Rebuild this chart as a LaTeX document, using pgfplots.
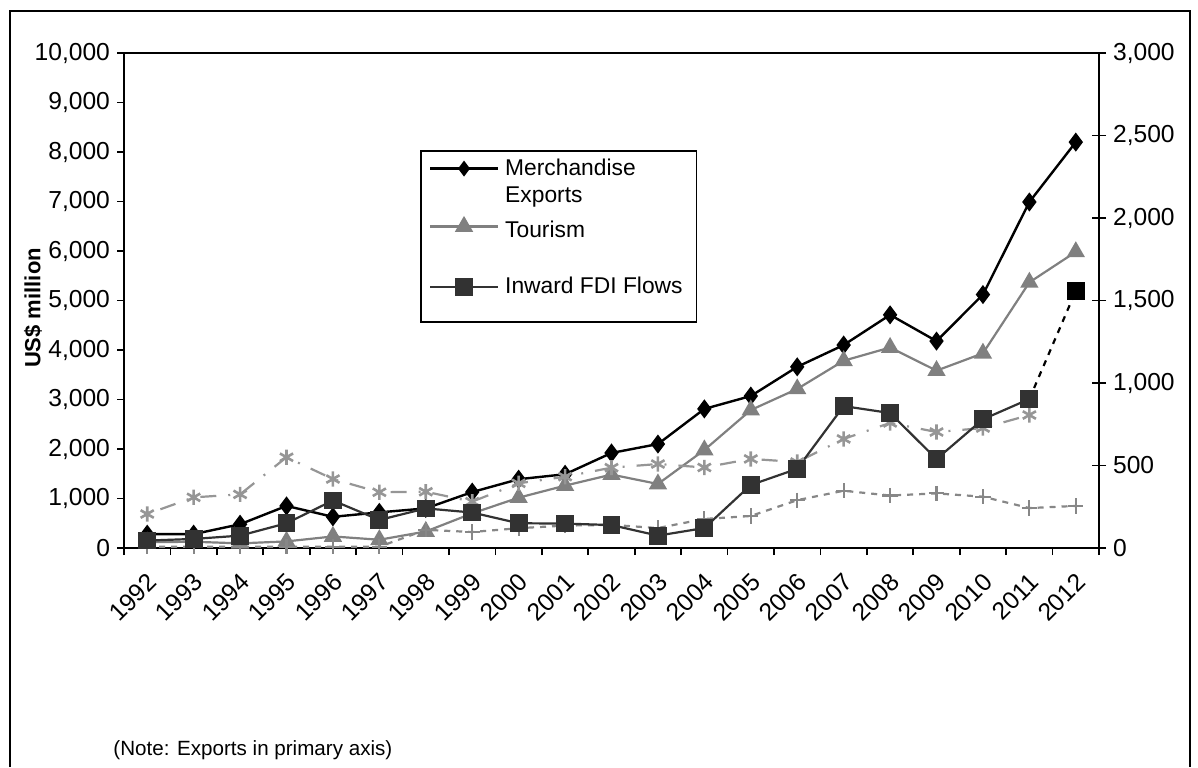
\documentclass[border=0pt]{standalone}
\usepackage{pgfplots}
\pgfplotsset{compat=1.18}
\usepackage{fontspec}
\setmainfont{Liberation Sans}
\definecolor{tour}{RGB}{128,128,128}
\definecolor{fdi}{RGB}{50,50,50}
\definecolor{remit}{RGB}{150,150,150}
\definecolor{oth}{RGB}{135,135,135}
\pgfplotsset{
  base/.style={
    scale only axis, width=487.5pt, height=247.5pt,
    at={(62pt,109.5pt)}, anchor=south west,
    xmin=-0.5, xmax=20.5,
    /pgf/number format/assume math mode=true,
    /pgf/number format/1000 sep={,},
    scaled y ticks=false,
    tick label style={font=\fontsize{12.3}{14}\selectfont},
    axis line style={black, line width=0.8pt},
    every tick/.style={black, line width=0.8pt},
  }
}
\begin{document}
\begin{tikzpicture}
\useasboundingbox (0,0) rectangle (599pt,383.5pt);
\draw[line width=0.8pt] (5pt,0) -- (5pt,378pt) -- (595pt,378pt) -- (595pt,0);
% primary axis
\begin{axis}[base,
  ymin=0, ymax=10000, ytick={0,1000,...,10000},
  ytick pos=left, xtick pos=bottom, tick align=outside,
  major tick length=3.5pt, minor tick length=3.5pt,
  xtick={0,...,20}, major x tick style={draw=none},
  minor xtick={-0.5,0.5,...,20.5},
  xticklabels={1992,1993,1994,1995,1996,1997,1998,1999,2000,2001,2002,2003,2004,2005,2006,2007,2008,2009,2010,2011,2012},
  xticklabel style={anchor=east, xshift=5pt, yshift=-9pt, rotate=45},
]
\addplot[black, line width=1.2pt, mark=diamond*, mark size=3.8pt] coordinates {
(0,280) (1,280) (2,480) (3,850) (4,630) (5,720) (6,800) (7,1130) (8,1390) (9,1490)
(10,1920) (11,2100) (12,2810) (13,3070) (14,3660) (15,4100) (16,4710) (17,4180) (18,5120) (19,6990) (20,8200)};
\end{axis}
% secondary axis
\begin{axis}[base,
  ymin=0, ymax=3000, ytick={0,500,...,3000},
  axis y line*=right, axis x line=none,
  tick align=center, major tick length=7pt,
  legend style={at={(0.3036,0.804)}, anchor=north west, draw=black, line width=0.8pt,
    font=\fontsize{11.4}{13}\selectfont, row sep=0pt, inner xsep=4pt, inner ysep=2pt,
    nodes={inner xsep=3pt}},
  legend cell align=left,
  legend image code/.code={
    \draw[mark repeat=2, mark phase=2] plot coordinates {(0pt,0pt) (17pt,0pt) (34pt,0pt)};},
]
\addlegendimage{black, line width=1.2pt, mark=diamond*, mark size=3pt}
\addlegendentry{Merchandise}
\addlegendimage{empty legend}
\addlegendentry{Exports}
\addplot[tour, line width=1.1pt, mark=triangle*, mark size=4.2pt] coordinates {
(0,35) (1,38) (2,28) (3,40) (4,70) (5,50) (6,100) (7,210) (8,305) (9,378)
(10,445) (11,388) (12,594) (13,836) (14,964) (15,1135) (16,1215) (17,1075) (18,1180) (19,1610) (20,1795)};
\addlegendentry{\rule{0pt}{12pt}Tourism}
\addlegendimage{empty legend}
\addlegendentry{\strut}
\addplot[remit, line width=1.1pt, dash pattern=on 1pt off 6pt on 8pt off 6pt, mark=asterisk, mark size=3.8pt, mark options={solid, line width=1.3pt}, forget plot] coordinates {
(0,206) (1,307) (2,325) (3,550) (4,418) (5,338) (6,341) (7,281) (8,392) (9,432)
(10,487) (11,509) (12,488) (13,540) (14,521) (15,661) (16,758) (17,703) (18,727) (19,806)};
\addplot[oth, line width=1.1pt, dashed, mark=+, mark size=3.8pt, mark options={solid, line width=1.1pt}, forget plot] coordinates {
(0,8) (1,8) (2,8) (3,8) (4,8) (5,8) (6,110) (7,97) (8,120) (9,136)
(10,140) (11,121) (12,176) (13,194) (14,290) (15,347) (16,318) (17,331) (18,311) (19,242) (20,255)};
\addplot[black, line width=1.1pt, dashed, mark=square*, mark indices={2}, mark size=3.9pt, mark options={solid}, forget plot] coordinates {(19,903) (20,1558)};
\addplot[fdi, line width=1.1pt, mark=square*, mark size=3.9pt] coordinates {
(0,45) (1,55) (2,75) (3,150) (4,288) (5,170) (6,240) (7,215) (8,150) (9,148)
(10,139) (11,75) (12,121) (13,382) (14,480) (15,860) (16,818) (17,539) (18,780) (19,903)};
\addlegendentry{Inward FDI Flows}
\addlegendimage{empty legend}
\addlegendentry{\rule{0pt}{3pt}}
\end{axis}
\node[rotate=90, font=\bfseries\fontsize{11}{13}\selectfont] at (16.5pt,229.5pt) {US\$ million};
\node[anchor=west, font=\fontsize{10.3}{12}\selectfont, inner sep=0pt] at (56.5pt,8.5pt) {(Note: Exports in primary axis)};
\end{tikzpicture}
\end{document}
